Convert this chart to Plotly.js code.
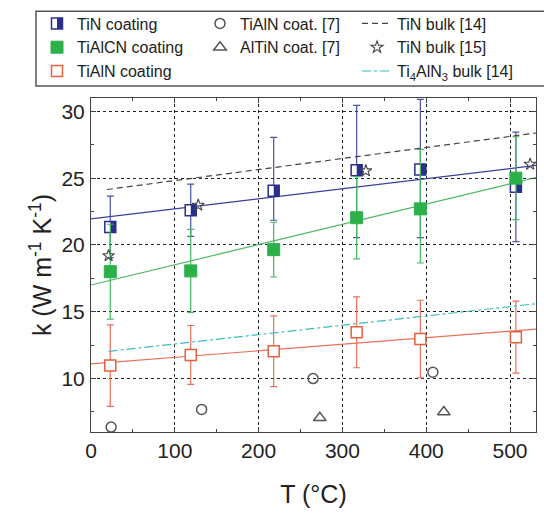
<!DOCTYPE html>
<html>
<head>
<meta charset="utf-8">
<script src="https://cdn.plot.ly/plotly-3.0.1.min.js"></script>
<style>html,body{margin:0;padding:0;background:#fff;}#chart{width:544px;height:514px;}</style>
</head>
<body>
<div id="chart"></div>
<script>
// ---- data ----
const T = [23, 119, 218, 317, 393, 507];
const tinK = [21.35, 22.6, 24.05, 25.6, 25.65, 24.35];
const tinErrPlus = [2.3, 1.95, 4.0, 4.85, 5.25, 4.1];
const tinErrMinus = [2.3, 1.95, 2.2, 5.05, 5.1, 4.1];
const tialcnK = [18.0, 18.06, 19.65, 22.04, 22.7, 25.0];
const tialcnErrPlus = [3.55, 3.1, 2.05, 3.08, 4.45, 3.1];
const tialcnErrMinus = [3.55, 3.1, 2.05, 3.08, 4.05, 3.1];
const tialnK = [10.97, 11.77, 12.04, 13.46, 12.96, 13.1];
const tialnErr = [3.05, 2.2, 2.65, 2.65, 2.9, 2.7];

const starT = [21, 128, 328, 524];
const starK = [19.2, 22.98, 25.55, 26.04];
const circT = [24, 132, 265, 408];
const circK = [6.37, 7.69, 10.0, 10.47];
const triT = [273, 421];
const triK = [7.06, 7.49];

const fitT = [0, 531];
const tinFit = [21.95, 25.95];
const tialcnFit = [17.0, 25.05];
const tialnFit = [11.1, 13.7];
const tinBulkT = [19, 531];
const tinBulkK = [24.15, 28.38];
const ti4T = [21, 531];
const ti4K = [12.04, 15.6];

const xTicks = [0, 100, 200, 300, 400, 500];
const yTicks = [10, 15, 20, 25, 30];

// ---- styling ----
const NAVY = '#2a2f8c', GREEN = '#2bb04a', ORANGE = '#e8603c', CYAN = '#3cbcc0', GRAY = '#555';
const L = 91, R = 8, TOP = 97, B = 82, W = 544, H = 514;
const pw = W - L - R, ph = H - TOP - B;
const xRange = [0, 531], yRange = [6, 31];
const pxPerX = pw / (xRange[1] - xRange[0]);
const px = v => (v - L) / pw;          // page pixel -> paper x
const py = v => (H - B - v) / ph;      // page pixel -> paper y
const halfShift = 2.8 / pxPerX;        // right-half fill of TiN marker

const font = 'Arial, "Liberation Sans", sans-serif';
const LEG_TOP = 6.5, LEG_FONT = 16;

const traces = [
  // fit lines
  {x: fitT, y: tinFit, mode: 'lines', line: {color: '#3b3f98', width: 1.2}, showlegend: false, hoverinfo: 'skip'},
  {x: fitT, y: tialcnFit, mode: 'lines', line: {color: '#4cb861', width: 1.2}, showlegend: false, hoverinfo: 'skip'},
  {x: fitT, y: tialnFit, mode: 'lines', line: {color: '#e8705a', width: 1.2}, showlegend: false, hoverinfo: 'skip'},
  // TiN coating
  {x: T, y: tinK, mode: 'markers', name: 'TiN coating', legend: 'legend',
   marker: {symbol: 'square', size: 11, color: '#fff', line: {color: NAVY, width: 1.5}},
   error_y: {type: 'data', symmetric: false, array: tinErrPlus, arrayminus: tinErrMinus, color: '#4a4fa8', thickness: 1.2, width: 3.5}},
  {x: T.map(v => v + halfShift), y: tinK, mode: 'markers', showlegend: false, hoverinfo: 'skip',
   marker: {symbol: 'line-ns', size: 8, line: {color: NAVY, width: 5.5}}},
  // TiAlCN coating
  {x: T, y: tialcnK, mode: 'markers', name: 'TiAlCN coating', legend: 'legend',
   marker: {symbol: 'square', size: 12, color: GREEN, line: {color: GREEN, width: 1}},
   error_y: {type: 'data', symmetric: false, array: tialcnErrPlus, arrayminus: tialcnErrMinus, color: '#45b860', thickness: 1.2, width: 3.5}},
  // TiAlN coating
  {x: T, y: tialnK, mode: 'markers', name: 'TiAlN coating', legend: 'legend',
   marker: {symbol: 'square', size: 11, color: '#fff', line: {color: ORANGE, width: 1.5}},
   error_y: {type: 'data', array: tialnErr, color: '#e8705a', thickness: 1.2, width: 3.5}},
  // literature
  {x: circT, y: circK, mode: 'markers', name: 'TiAlN coat. [7]', legend: 'legend2',
   marker: {symbol: 'circle-open', size: 10, color: GRAY, line: {width: 1.5}}},
  {x: triT, y: triK, mode: 'markers', name: 'AlTiN coat. [7]', legend: 'legend2',
   marker: {symbol: 'triangle-up-open', size: 11, color: GRAY, line: {width: 1.5}}},
  {x: tinBulkT, y: tinBulkK, mode: 'lines', name: 'TiN bulk [14]', legend: 'legend3',
   line: {color: '#444', width: 1.2, dash: '6px,4px'}},
  {x: starT, y: starK, mode: 'markers', name: 'TiN bulk [15]', legend: 'legend3',
   marker: {symbol: 'star-open', size: 9, color: '#444', line: {width: 1.1}}},
  {x: ti4T, y: ti4K, mode: 'lines', name: 'Ti<sub>4</sub>AlN<sub>3</sub> bulk [14]', legend: 'legend3',
   line: {color: CYAN, width: 1.2, dash: 'dashdot'}}
];

const axisCommon = {
  showline: true, linecolor: '#444', linewidth: 1, mirror: 'ticks',
  ticks: 'inside', ticklen: 5, tickcolor: '#444',
  showgrid: true, gridcolor: '#222', griddash: 'dot', gridwidth: 1,
  zeroline: false, tickfont: {family: font, size: 21, color: '#222'}
};

const legendCommon = {
  xanchor: 'left', yanchor: 'top', bgcolor: 'rgba(0,0,0,0)', borderwidth: 0,
  font: {family: font, size: LEG_FONT, color: '#222'}, tracegroupgap: 0, orientation: 'v'
};

const LEG3_X = 357;

const layout = {
  width: W, height: H,
  margin: {l: L, r: R, t: TOP, b: B},
  paper_bgcolor: '#fff', plot_bgcolor: '#fff',
  font: {family: font, color: '#222'},
  xaxis: Object.assign({}, axisCommon, {
    range: xRange, tickvals: xTicks, ticktext: xTicks.map(String),
    minor: {dtick: 50, tick0: 0, ticks: 'inside', ticklen: 3, tickcolor: '#444', showgrid: false},
    title: {text: 'T (°C)', font: {family: font, size: 25, color: '#222'}, standoff: 24}
  }),
  yaxis: Object.assign({}, axisCommon, {
    range: yRange, tickvals: yTicks, ticktext: yTicks.map(String),
    minor: {dtick: 2.5, tick0: 0, ticks: 'inside', ticklen: 3, tickcolor: '#444', showgrid: false},
    ticklabelstandoff: 1,
    title: {text: 'k (W m<sup>-1</sup> K<sup>-1</sup>)', font: {family: font, size: 25, color: '#222'}, standoff: 2}
  }),
  legend: Object.assign({}, legendCommon, {x: px(37), y: py(LEG_TOP)}),
  legend2: Object.assign({}, legendCommon, {x: px(200), y: py(LEG_TOP)}),
  legend3: Object.assign({}, legendCommon, {x: px(LEG3_X), y: py(LEG_TOP)}),
  shapes: [
    {type: 'rect', xref: 'paper', yref: 'paper', x0: px(36), x1: px(560), y0: py(85), y1: py(10),
     line: {color: '#555', width: 1.5}, fillcolor: 'rgba(0,0,0,0)', layer: 'above'}
  ],
  showlegend: true
};

Plotly.newPlot('chart', traces, layout, {displayModeBar: false, staticPlot: true}).then(gd => {
  // the third legend column runs off the page edge, as in the reference; undo Plotly's clamp
  const g3 = gd.querySelector('g.legend3');
  if (g3) {
    const m = /translate\(\s*([-\d.]+)[ ,]+([-\d.]+)\s*\)/.exec(g3.getAttribute('transform') || '');
    if (m) g3.setAttribute('transform', 'translate(' + LEG3_X + ',' + m[2] + ')');
  }
  // half-filled legend symbol for "TiN coating"
  const g1 = gd.querySelector('g.legend');
  const pt = g1 && g1.querySelector('g.traces .legendpoints path.scatterpts');
  if (pt) {
    const bb = pt.getBBox();
    const r = document.createElementNS('http://www.w3.org/2000/svg', 'rect');
    r.setAttribute('x', bb.x + bb.width / 2);
    r.setAttribute('y', bb.y);
    r.setAttribute('width', bb.width / 2);
    r.setAttribute('height', bb.height);
    r.setAttribute('transform', pt.getAttribute('transform') || '');
    r.setAttribute('fill', NAVY);
    pt.parentNode.appendChild(r);
  }
});
</script>
</body>
</html>
